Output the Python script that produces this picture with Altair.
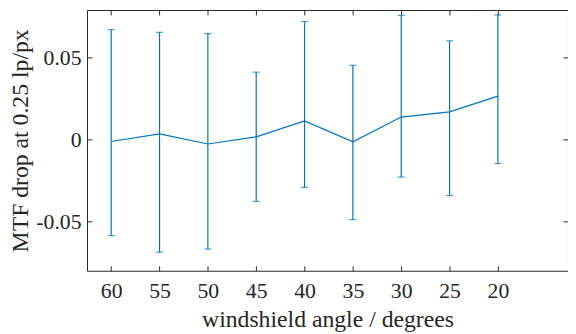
import altair as alt
import pandas as pd

angles = [60, 55, 50, 45, 40, 35, 30, 25, 20]
mean = [-0.0012, 0.0034, -0.0027, 0.0016, 0.0114, -0.0014, 0.0137, 0.0169, 0.0265]
lower = [-0.0586, -0.0687, -0.0668, -0.0377, -0.0291, -0.0488, -0.0229, -0.0341, -0.0146]
upper = [0.0670, 0.0654, 0.0646, 0.0411, 0.0720, 0.0453, 0.0757, 0.0602, 0.0760]

x_ticks = [60, 55, 50, 45, 40, 35, 30, 25, 20]
y_ticks = [-0.05, 0, 0.05]

df = pd.DataFrame({"angle": angles, "mean": mean, "lower": lower, "upper": upper})

BLUE = "#0072BD"
AX = "#262626"
FONT = "Liberation Serif"

xscale = alt.Scale(domain=[12.75, 62.5], reverse=True, nice=False, zero=False)
yscale = alt.Scale(domain=[-0.08, 0.079], nice=False, zero=False)

x_bottom = alt.Axis(orient="bottom", values=x_ticks, title="windshield angle / degrees",
                    offset=-5, tickSize=5, domain=False, grid=False, labelPadding=10,
                    titlePadding=6, labelFontSize=22, titleFontSize=24)
y_left = alt.Axis(orient="left", values=y_ticks, title="MTF drop at 0.25 lp/px",
                  offset=-5, tickSize=5, domain=False, grid=False, labelPadding=6,
                  labelExpr="toString(datum.value)", titlePadding=3,
                  labelFontSize=22, titleFontSize=24)
x_top = alt.Axis(orient="top", values=x_ticks, title=None, labels=False,
                 offset=-5, tickSize=5, domain=False, grid=False)
y_right = alt.Axis(orient="right", values=y_ticks, title=None, labels=False,
                   offset=-5, tickSize=5, domain=False, grid=False)

base = alt.Chart(df)

bars = base.mark_rule(color=BLUE, strokeWidth=1.2).encode(
    x=alt.X("angle:Q", scale=xscale, axis=x_bottom),
    y=alt.Y("lower:Q", scale=yscale, axis=y_left),
    y2="upper:Q",
)
caps_low = base.mark_tick(color=BLUE, orient="horizontal", size=7, thickness=1.2).encode(
    x=alt.X("angle:Q", scale=xscale, axis=x_top),
    y=alt.Y("lower:Q", scale=yscale, axis=y_right),
)
caps_up = base.mark_tick(color=BLUE, orient="horizontal", size=7, thickness=1.2).encode(
    x=alt.X("angle:Q", scale=xscale, axis=None),
    y=alt.Y("upper:Q", scale=yscale, axis=None),
)
line = base.mark_line(color=BLUE, strokeWidth=1.2).encode(
    x=alt.X("angle:Q", scale=xscale, axis=None),
    y=alt.Y("mean:Q", scale=yscale, axis=None),
)

chart = alt.layer(bars, caps_low, caps_up, line).resolve_axis(
    x="independent", y="independent"
).properties(
    width=487, height=264,
    background="white",
    autosize=alt.AutoSizeParams(type="none"),
    padding={"left": 80, "top": 0, "right": 0, "bottom": 60},
).configure_view(stroke=AX, strokeWidth=1).configure_axis(
    labelFont=FONT, titleFont=FONT, labelColor=AX, titleColor=AX,
    tickColor=AX, titleFontWeight="normal", tickWidth=1, tickOpacity=1,
)

chart.save("out.html", embed_options={"renderer": "svg", "actions": False})
